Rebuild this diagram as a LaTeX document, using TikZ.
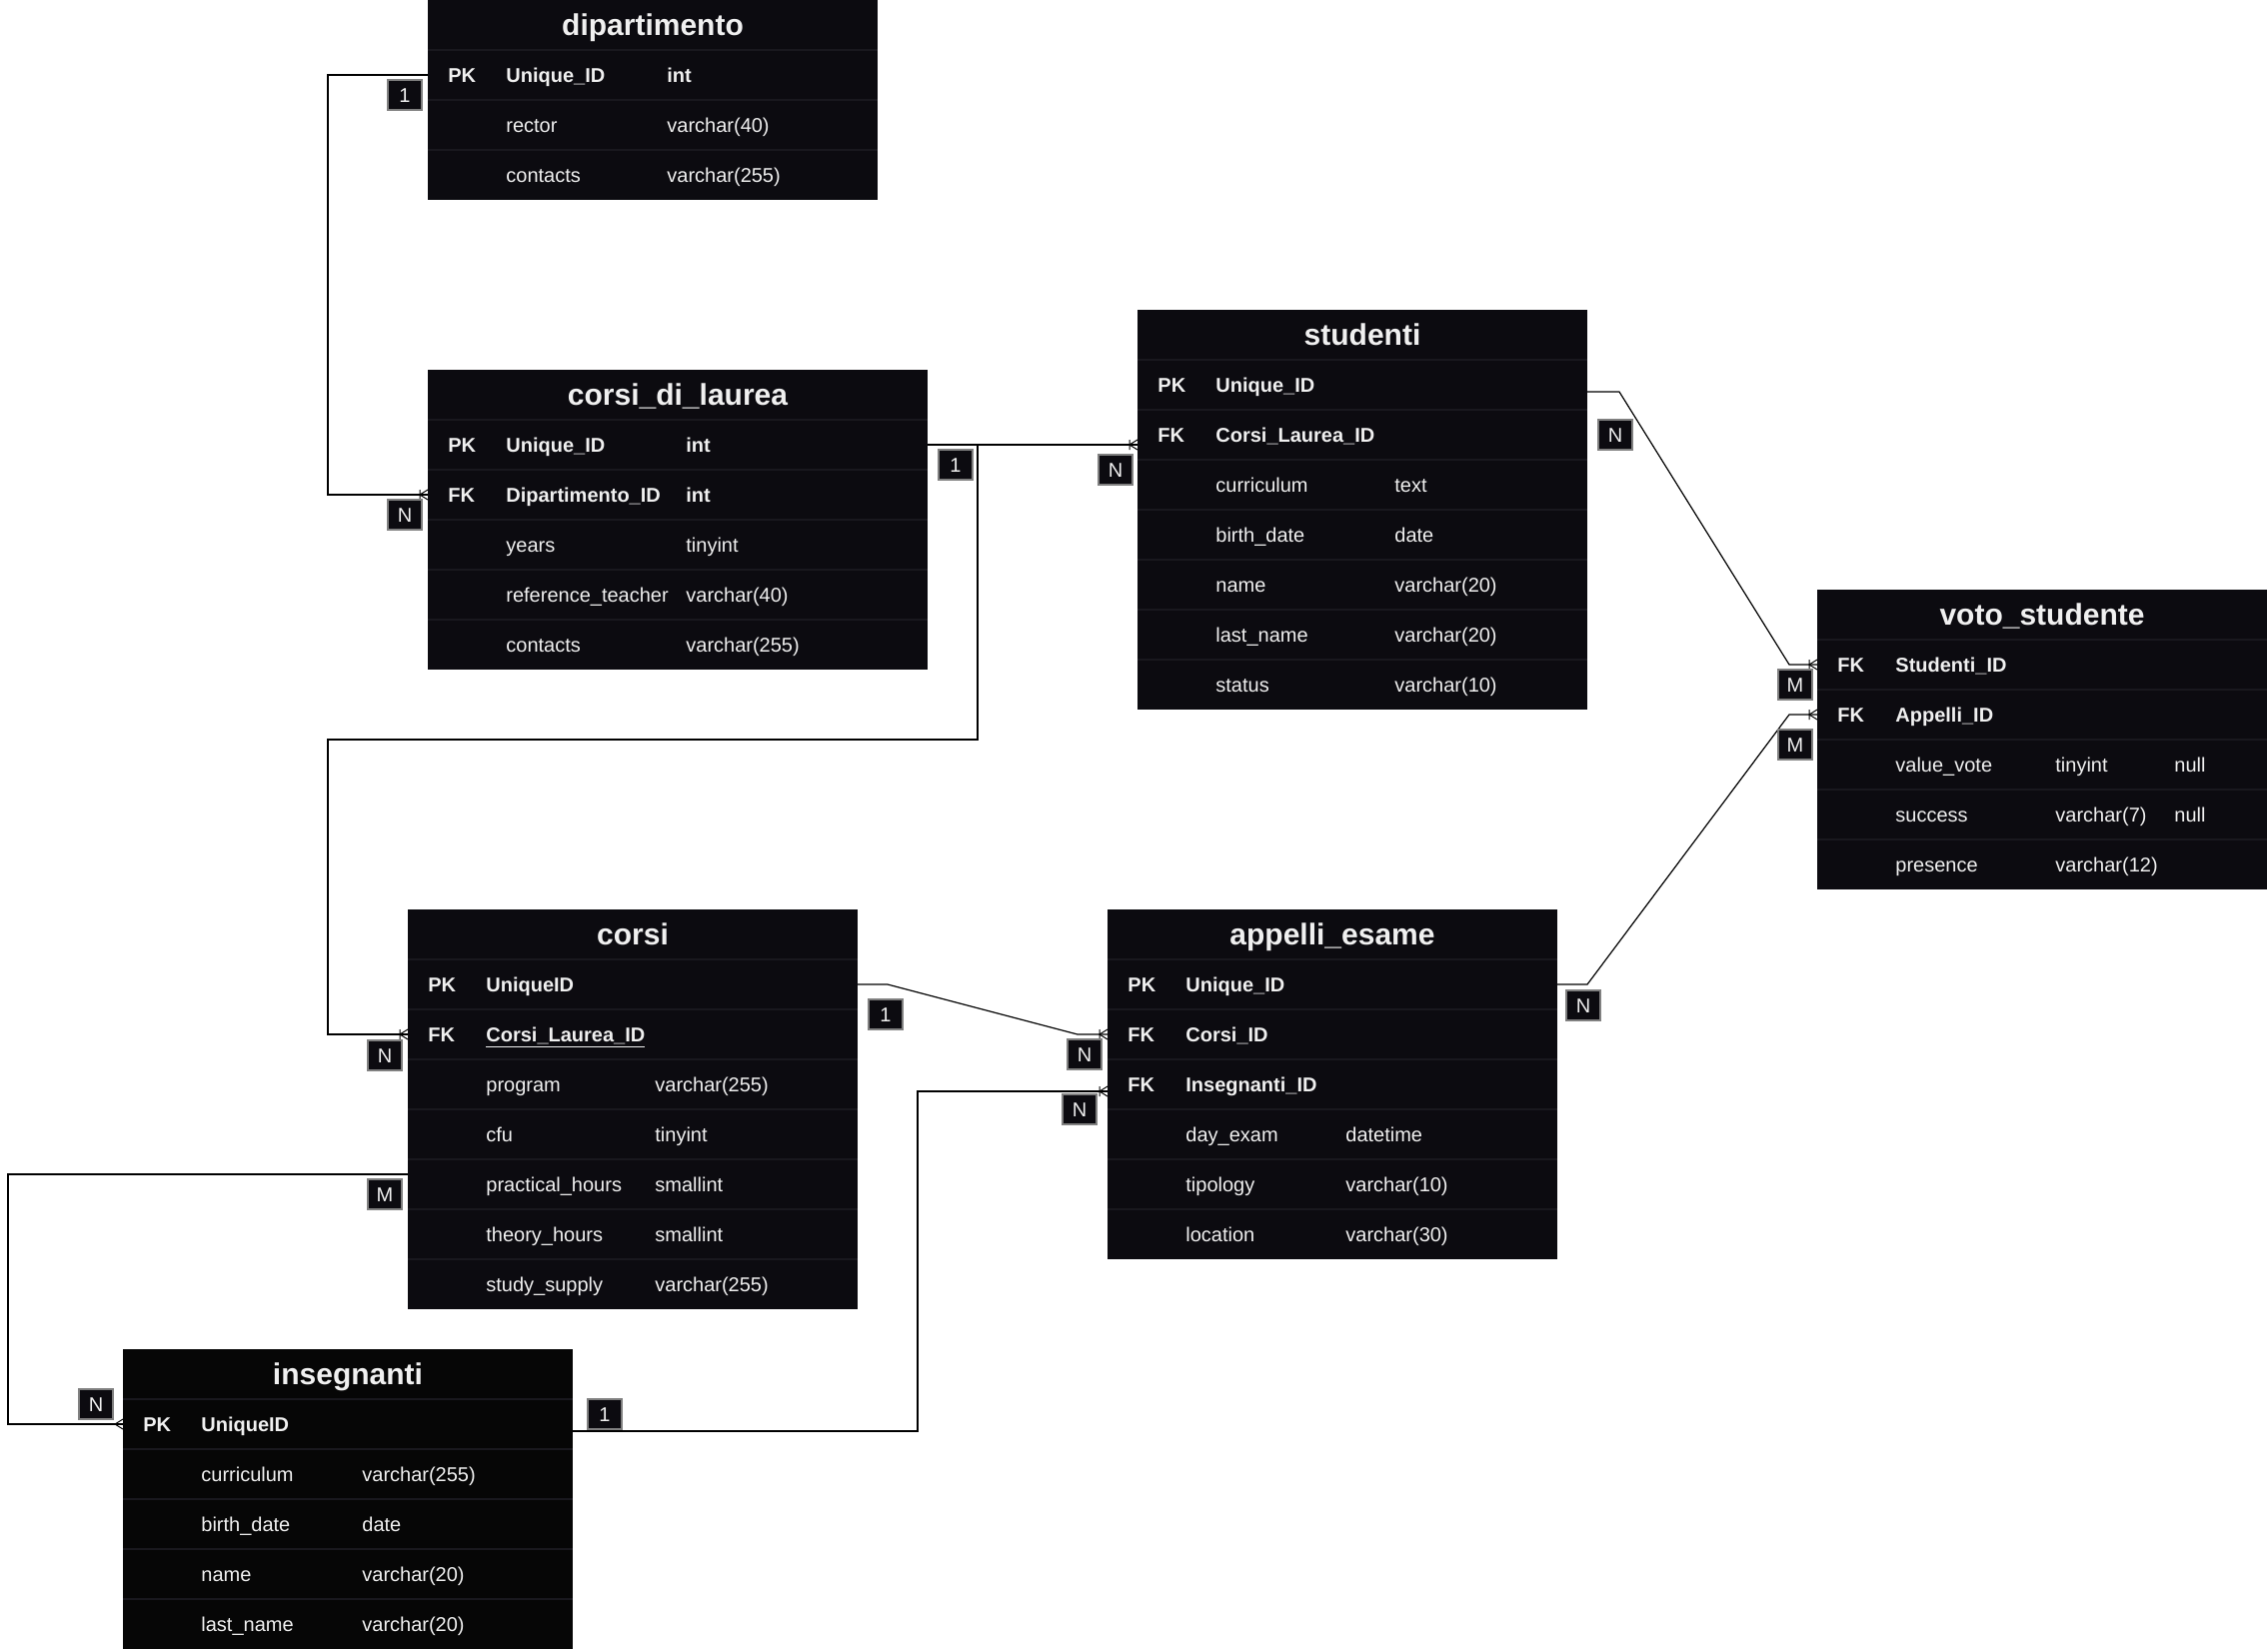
\documentclass[tikz,border=0pt]{standalone}
\usepackage{fontspec}
\setmainfont{Liberation Sans}
\usetikzlibrary{decorations.markings}
\definecolor{tblbg}{RGB}{12,11,16}
\definecolor{insbg}{RGB}{6,6,6}
\definecolor{sepc}{RGB}{25,24,30}
\definecolor{txtc}{RGB}{240,240,240}
\definecolor{cardc}{RGB}{128,128,128}

\begin{document}
\begin{tikzpicture}[x=0.5pt,y=-0.5pt,
    tbl/.style={fill=tblbg,inner sep=0pt,outer sep=0pt,anchor=north west},
    ttl/.style={text=txtc,font=\fontsize{15}{18}\selectfont\bfseries,text height=10.8pt,text depth=0pt,inner sep=0pt},
    rowkey/.style={anchor=west,text=txtc,font=\fontsize{10}{12}\selectfont\bfseries,text height=7.2pt,text depth=0pt,inner sep=0pt},
    rowtxt/.style={anchor=west,text=txtc,font=\fontsize{10}{12}\selectfont,text height=7.2pt,text depth=0pt,inner sep=0pt},
    rowline/.style={draw=sepc,line width=0.6pt},
    cardbox/.style={draw=cardc,fill=tblbg,text=txtc,font=\fontsize{10}{12}\selectfont,text height=7.2pt,text depth=0pt,minimum width=17pt,minimum height=15pt,inner sep=0pt,line width=0.7pt},
    rel/.style={line width=0.6pt},
    onemany/.style={postaction={decorate},decoration={markings,mark=at position 1 with {\draw[line width=0.5pt] (-4pt,-2.5pt) -- (-4pt,2.5pt) (0pt,-2.5pt) -- (-4pt,0pt) -- (0pt,2.5pt);}}},
    many/.style={postaction={decorate},decoration={markings,mark=at position 1 with {\draw[line width=0.5pt] (0pt,-2.5pt) -- (-4pt,0pt) -- (0pt,2.5pt);}}}]
    \useasboundingbox (0,0) rectangle (2269,1651);

    \node[tbl,minimum width=225pt,minimum height=100pt] (dip) at (428,0) {};
    \draw[rowline] (428,50) -- ++(450,0) (428,100) -- ++(450,0) (428,150) -- ++(450,0);
    \node[ttl] (dip-t) at (653,25) {dipartimento};
    \node[rowkey] at (448,75) {PK};
    \node[rowkey] (dip-pk) at (506,75) {Unique\_ID};
    \node[rowkey] at (667,75) {int};
    \node[rowtxt] at (506,125) {rector};
    \node[rowtxt] at (667,125) {varchar(40)};
    \node[rowtxt] at (506,175) {contacts};
    \node[rowtxt] at (667,175) {varchar(255)};

    \node[tbl,minimum width=250pt,minimum height=150pt] (cdl) at (428,370) {};
    \draw[rowline] (428,420) -- ++(500,0) (428,470) -- ++(500,0) (428,520) -- ++(500,0) (428,570) -- ++(500,0) (428,620) -- ++(500,0);
    \node[ttl] (cdl-t) at (678,395) {corsi\_di\_laurea};
    \node[rowkey] at (448,445) {PK};
    \node[rowkey] (cdl-pk) at (506,445) {Unique\_ID};
    \node[rowkey] at (686,445) {int};
    \node[rowkey] at (448,495) {FK};
    \node[rowkey] (cdl-fk) at (506,495) {Dipartimento\_ID};
    \node[rowkey] at (686,495) {int};
    \node[rowtxt] at (506,545) {years};
    \node[rowtxt] at (686,545) {tinyint};
    \node[rowtxt] at (506,595) {reference\_teacher};
    \node[rowtxt] at (686,595) {varchar(40)};
    \node[rowtxt] at (506,645) {contacts};
    \node[rowtxt] at (686,645) {varchar(255)};

    \node[tbl,minimum width=225pt,minimum height=200pt] (stu) at (1138,310) {};
    \draw[rowline] (1138,360) -- ++(450,0) (1138,410) -- ++(450,0) (1138,460) -- ++(450,0) (1138,510) -- ++(450,0) (1138,560) -- ++(450,0) (1138,610) -- ++(450,0) (1138,660) -- ++(450,0);
    \node[ttl] (stu-t) at (1363,335) {studenti};
    \node[rowkey] at (1158,385) {PK};
    \node[rowkey] (stu-pk) at (1216,385) {Unique\_ID};
    \node[rowkey] at (1158,435) {FK};
    \node[rowkey] (stu-fk) at (1216,435) {Corsi\_Laurea\_ID};
    \node[rowtxt] at (1216,485) {curriculum};
    \node[rowtxt] at (1395,485) {text};
    \node[rowtxt] at (1216,535) {birth\_date};
    \node[rowtxt] at (1395,535) {date};
    \node[rowtxt] at (1216,585) {name};
    \node[rowtxt] at (1395,585) {varchar(20)};
    \node[rowtxt] at (1216,635) {last\_name};
    \node[rowtxt] at (1395,635) {varchar(20)};
    \node[rowtxt] at (1216,685) {status};
    \node[rowtxt] at (1395,685) {varchar(10)};

    \node[tbl,minimum width=225pt,minimum height=150pt] (voto) at (1818,590) {};
    \draw[rowline] (1818,640) -- ++(450,0) (1818,690) -- ++(450,0) (1818,740) -- ++(450,0) (1818,790) -- ++(450,0) (1818,840) -- ++(450,0);
    \node[ttl] (voto-t) at (2043,615) {voto\_studente};
    \node[rowkey] at (1838,665) {FK};
    \node[rowkey] (voto-s) at (1896,665) {Studenti\_ID};
    \node[rowkey] at (1838,715) {FK};
    \node[rowkey] (voto-a) at (1896,715) {Appelli\_ID};
    \node[rowtxt] at (1896,765) {value\_vote};
    \node[rowtxt] at (2056,765) {tinyint};
    \node[rowtxt] at (2175,765) {null};
    \node[rowtxt] at (1896,815) {success};
    \node[rowtxt] at (2056,815) {varchar(7)};
    \node[rowtxt] at (2175,815) {null};
    \node[rowtxt] at (1896,865) {presence};
    \node[rowtxt] at (2056,865) {varchar(12)};

    \node[tbl,minimum width=225pt,minimum height=200pt] (cor) at (408,910) {};
    \draw[rowline] (408,960) -- ++(450,0) (408,1010) -- ++(450,0) (408,1060) -- ++(450,0) (408,1110) -- ++(450,0) (408,1160) -- ++(450,0) (408,1210) -- ++(450,0) (408,1260) -- ++(450,0);
    \node[ttl] (cor-t) at (633,935) {corsi};
    \node[rowkey] at (428,985) {PK};
    \node[rowkey] (cor-pk) at (486,985) {UniqueID};
    \node[rowkey] at (428,1035) {FK};
    \node[rowkey] (cor-fk) at (486,1035) {\underline{Corsi\_Laurea\_ID}};
    \node[rowtxt] at (486,1085) {program};
    \node[rowtxt] at (655,1085) {varchar(255)};
    \node[rowtxt] at (486,1135) {cfu};
    \node[rowtxt] at (655,1135) {tinyint};
    \node[rowtxt] (cor-ph) at (486,1185) {practical\_hours};
    \node[rowtxt] at (655,1185) {smallint};
    \node[rowtxt] at (486,1235) {theory\_hours};
    \node[rowtxt] at (655,1235) {smallint};
    \node[rowtxt] at (486,1285) {study\_supply};
    \node[rowtxt] at (655,1285) {varchar(255)};

    \node[tbl,minimum width=225pt,minimum height=175pt] (app) at (1108,910) {};
    \draw[rowline] (1108,960) -- ++(450,0) (1108,1010) -- ++(450,0) (1108,1060) -- ++(450,0) (1108,1110) -- ++(450,0) (1108,1160) -- ++(450,0) (1108,1210) -- ++(450,0);
    \node[ttl] (app-t) at (1333,935) {appelli\_esame};
    \node[rowkey] at (1128,985) {PK};
    \node[rowkey] (app-pk) at (1186,985) {Unique\_ID};
    \node[rowkey] at (1128,1035) {FK};
    \node[rowkey] (app-c) at (1186,1035) {Corsi\_ID};
    \node[rowkey] at (1128,1085) {FK};
    \node[rowkey] (app-i) at (1186,1085) {Insegnanti\_ID};
    \node[rowtxt] at (1186,1135) {day\_exam};
    \node[rowtxt] at (1346,1135) {datetime};
    \node[rowtxt] at (1186,1185) {tipology};
    \node[rowtxt] at (1346,1185) {varchar(10)};
    \node[rowtxt] at (1186,1235) {location};
    \node[rowtxt] at (1346,1235) {varchar(30)};

    \node[tbl,fill=insbg,minimum width=225pt,minimum height=150pt] (ins) at (123,1350) {};
    \draw[rowline] (123,1400) -- ++(450,0) (123,1450) -- ++(450,0) (123,1500) -- ++(450,0) (123,1550) -- ++(450,0) (123,1600) -- ++(450,0);
    \node[ttl] (ins-t) at (348,1375) {insegnanti};
    \node[rowkey] at (143,1425) {PK};
    \node[rowkey] (ins-pk) at (201,1425) {UniqueID};
    \node[rowtxt] at (201,1475) {curriculum};
    \node[rowtxt] at (362,1475) {varchar(255)};
    \node[rowtxt] at (201,1525) {birth\_date};
    \node[rowtxt] at (362,1525) {date};
    \node[rowtxt] at (201,1575) {name};
    \node[rowtxt] at (362,1575) {varchar(20)};
    \node[rowtxt] at (201,1625) {last\_name};
    \node[rowtxt] at (362,1625) {varchar(20)};

    \draw[rel,onemany] (dip.west |- dip-pk) -- ++(-100,0) |- (cdl.west |- cdl-fk);
    \draw[rel,onemany] (cdl.east |- cdl-pk) -- (stu.west |- cdl-pk);
    \draw[rel,onemany] (cdl.east |- cdl-pk) -- ++(50,0) |- (328,740) |- (cor.west |- cor-fk);
    \draw[rel,onemany] ([yshift=-3.5pt]stu.east |- stu-pk) -- ++(32,0) -- ([xshift=-14pt]voto.west |- voto-s) -- (voto.west |- voto-s);
    \draw[rel,onemany] (app.east |- app-pk) -- ++(30,0) -- ([xshift=-14pt]voto.west |- voto-a) -- (voto.west |- voto-a);
    \draw[rel,onemany] (cor.east |- cor-pk) -- ++(30,0) -- ([xshift=-15pt]app.west |- app-c) -- (app.west |- app-c);
    \draw[rel,onemany] ([yshift=-3.5pt]ins.east |- ins-pk) -| ([xshift=-95pt,yshift=-3.5pt]app.west |- app-i) -- ([yshift=-3.5pt]app.west |- app-i);
    \draw[rel,many] ([yshift=5pt]cor.west |- cor-ph) -- ++(-400,0) |- (ins.west |- ins-pk);

    \node[cardbox] (dip-1) at (405,95) {1};
    \node[cardbox] (cdl-n) at (405,515) {N};
    \node[cardbox] (cdl-1) at (956,465) {1};
    \node[cardbox] (stu-n1) at (1116,470) {N};
    \node[cardbox] (stu-n2) at (1616,435) {N};
    \node[cardbox] (voto-m1) at (1796,685) {M};
    \node[cardbox] (voto-m2) at (1796,745) {M};
    \node[cardbox] (app-n1) at (1584,1006) {N};
    \node[cardbox] (cor-1) at (886,1015) {1};
    \node[cardbox] (app-n2) at (1085,1055) {N};
    \node[cardbox] (app-n3) at (1080,1110) {N};
    \node[cardbox] (cor-n) at (385,1056) {N};
    \node[cardbox] (cor-m) at (385,1195) {M};
    \node[cardbox] (ins-n) at (96,1405) {N};
    \node[cardbox] (ins-1) at (605,1415) {1};
\end{tikzpicture}
\end{document}
